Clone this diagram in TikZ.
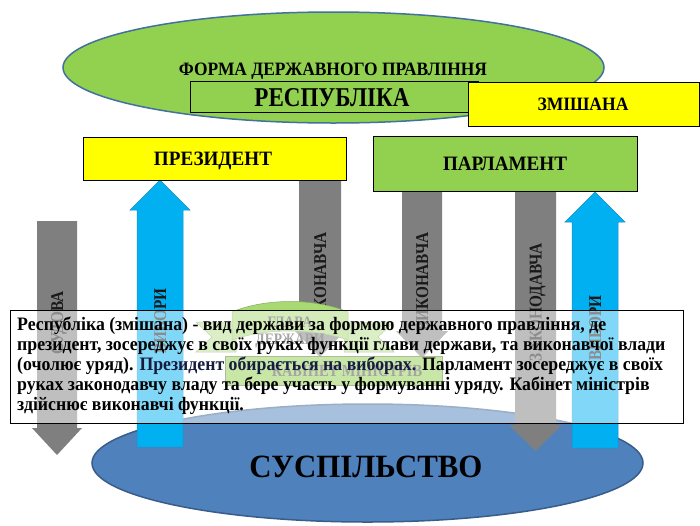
\documentclass[tikz,border=0pt]{standalone}
\usepackage{fontspec}
\usepackage{graphicx}
\setmainfont{Liberation Serif}
\newfontfamily\arrfont[FakeStretch=0.85]{Liberation Serif}
\newfontfamily\parfont[FakeStretch=0.935]{Liberation Serif}
\usetikzlibrary{shapes.geometric}
\definecolor{grn}{RGB}{146,208,80}
\definecolor{ylw}{RGB}{255,255,0}
\definecolor{ellb}{RGB}{65,113,156}
\definecolor{arrgray}{RGB}{127,127,127}
\definecolor{arrblue}{RGB}{0,176,240}
\definecolor{arrblueb}{RGB}{30,140,200}
\definecolor{socblue}{RGB}{79,129,189}
\definecolor{socbord}{RGB}{56,93,138}
\definecolor{navy}{RGB}{22,28,62}
\newcommand{\fitbox}[3]{\resizebox{#1pt}{#2pt}{\bfseries #3}}
\begin{document}
\begin{tikzpicture}[x=1pt,y=-1pt,
  boxstyle/.style={draw=black, line width=0.7pt, inner sep=0, outer sep=0},
  headtext/.style={inner sep=0, outer sep=0, anchor=base, text=black},
  grayarrow/.style={fill=arrgray, draw=none},
  bluearrow/.style={fill=arrblue, draw=arrblueb, line width=0.5pt},
  arrlabel/.style={rotate=90, anchor=base, inner sep=0, text=black!90, font=\arrfont\fontsize{18}{18}\selectfont\bfseries},
  bantext/.style={anchor=base, inner sep=0, text=black!70, font=\arrfont\fontsize{16}{16}\selectfont\bfseries},
  partext/.style={anchor=base west, inner sep=0, text=black, font=\parfont\fontsize{19}{20}\selectfont\bfseries}]
\useasboundingbox (0,0) rectangle (700,525);
\fill[white] (0,0) rectangle (700,525);

% top ellipse
\node (gov) [ellipse, draw=ellb, line width=1.5pt, fill=grn, minimum width=541, minimum height=111, inner sep=0] at (333.5,67.5) {};
\node (govt) [headtext] at (333,75) {\fitbox{308}{12.5}{ФОРМА ДЕРЖАВНОГО ПРАВЛІННЯ}};

% republic / mixed
\node (resp) [boxstyle, fill=grn, minimum width=288, minimum height=31] at (334,96.5) {};
\node (respt) [headtext] at (332,106) {\fitbox{155}{18}{РЕСПУБЛІКА}};
\node (mix) [boxstyle, fill=ylw, minimum width=231, minimum height=44] at (583.5,104) {};
\node (mixt) [headtext] at (583,110) {\fitbox{91}{12.5}{ЗМІШАНА}};

% society
\node (soc) [ellipse, draw=socbord, line width=1.5pt, fill=socblue, minimum width=551, minimum height=118, inner sep=0] at (367.5,463) {};
\node (soct) [headtext] at (366,477) {\fitbox{233}{21.5}{СУСПІЛЬСТВО}};

% arrows
\fill[grayarrow] (37,221) -- (77,221) -- (77,428) -- (82,428) -- (57,455) -- (32,428) -- (37,428) -- cycle;
\node (a1) [arrlabel] at (63,323) {СУДОВА};
\filldraw[bluearrow] (137,447) -- (183,447) -- (183,210) -- (190,210) -- (160,180) -- (130,210) -- (137,210) -- cycle;
\node (a2) [arrlabel] at (166,321) {ВИБОРИ};
\fill[grayarrow] (515,191) -- (556,191) -- (556,425) -- (562,425) -- (535.5,451) -- (509,425) -- (515,425) -- cycle;
\node (a5) [arrlabel] at (541.5,302) {ЗАКОНОДАВЧА};
\filldraw[bluearrow] (572,448) -- (618,448) -- (618,222) -- (625,222) -- (595,192) -- (565,222) -- (572,222) -- cycle;
\node (a6) [arrlabel] at (601,328) {ВИБОРИ};

% ribbon flaps
\filldraw[fill=grn!65!white, draw=grn!50!gray, line width=0.5pt] (236,322) -- (196,322) -- (212,337) -- (196,352) -- (236,352) -- cycle;
\filldraw[fill=grn!65!white, draw=grn!50!gray, line width=0.5pt] (344,322) -- (394,322) -- (378,337) -- (394,352) -- (344,352) -- cycle;

% executive arrows
\fill[grayarrow] (299,180) -- (341,180) -- (341,330) -- (346,330) -- (320,357) -- (294,330) -- (299,330) -- cycle;
\node (a3) [arrlabel] at (326,282) {ВИКОНАВЧА};
\fill[grayarrow] (402,191) -- (442,191) -- (442,331) -- (448,331) -- (422,358) -- (396,331) -- (402,331) -- cycle;
\node (a4) [arrlabel] at (428,282) {ВИКОНАВЧА};

% ribbon centre
\filldraw[fill=grn!80!white, draw=grn!50!gray, line width=0.5pt] (232,312) .. controls (265,298) and (315,298) .. (348,312) -- (348,340) .. controls (315,328) and (265,328) .. (232,340) -- cycle;
\node (kab) [draw=grn!60!black, line width=0.5pt, fill=grn, minimum width=217, minimum height=29, inner sep=0] at (333.5,370.5) {};
\node (glava1) [bantext] at (290,327) {ГЛАВА};
\node (glava2) [bantext] at (290,344) {ДЕРЖАВИ};
\node (kabt) [bantext, font=\arrfont\fontsize{17}{17}\selectfont\bfseries] at (347,376) {КАБІНЕТ МІНІСТРІВ};

% president / parliament
\node (pres) [boxstyle, fill=ylw, minimum width=263, minimum height=43] at (214.5,158.5) {};
\node (prest) [headtext] at (213,165) {\fitbox{118}{13.5}{ПРЕЗИДЕНТ}};
\node (parl) [boxstyle, fill=grn, minimum width=264, minimum height=55] at (505,163.5) {};
\node (parlt) [headtext] at (505,170) {\fitbox{124}{13.5}{ПАРЛАМЕНТ}};

% description box
\node (desc) [draw=black, line width=0.8pt, fill=white, fill opacity=0.5, minimum width=673, minimum height=113, inner sep=0] at (346.5,366.5) {};
\node (l1) [partext] at (17,330) {Республіка (змішана) - вид держави за формою державного правління, де};
\node (l2) [partext] at (17,350) {президент, зосереджує в своїх руках функції глави держави, та виконавчої влади};
\node (l3) [partext] at (17,370) {(очолює уряд). \textcolor{navy}{Президент обирається на виборах.} Парламент зосереджує в своїх};
\node (l4) [partext] at (17,390) {руках законодавчу владу та бере участь у формуванні уряду. Кабінет міністрів};
\node (l5) [partext] at (17,410) {здійснює виконавчі функції.};
\end{tikzpicture}
\end{document}
